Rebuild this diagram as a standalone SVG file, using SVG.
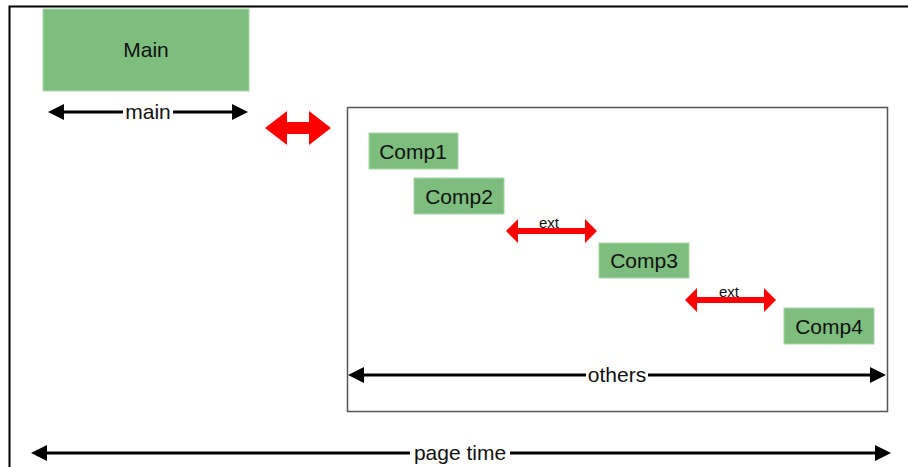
<svg xmlns="http://www.w3.org/2000/svg" width="908" height="467" viewBox="0 0 908 467">
<style>
.box{fill:#7dbd7d;stroke:#a8d8a8;stroke-width:1}
.t{font-family:"Liberation Sans",Arial,sans-serif;fill:#111;text-anchor:middle}
.blk{stroke:#000;stroke-width:3;fill:none}
.hd{fill:#000}
.red{fill:#ff0000}
</style>
<rect width="908" height="467" fill="#fff"/>
<path d="M9.5,467 V6.5 H908" fill="none" stroke="#000" stroke-width="2"/>
<g id="others-box"><rect x="347.5" y="107.5" width="540" height="304" fill="none" stroke="#555" stroke-width="1.5"/></g>
<g id="main"><rect class="box" x="43" y="9" width="206" height="82"/><text class="t" x="146" y="56.5" font-size="21">Main</text></g>
<g id="comp1"><rect class="box" x="369" y="133" width="89" height="36"/><text class="t" x="413" y="158.5" font-size="21">Comp1</text></g>
<g id="comp2"><rect class="box" x="414" y="178" width="90" height="36"/><text class="t" x="459" y="203.5" font-size="21">Comp2</text></g>
<g id="comp3"><rect class="box" x="599" y="243" width="90" height="35"/><text class="t" x="644" y="268" font-size="21">Comp3</text></g>
<g id="comp4"><rect class="box" x="784" y="308" width="90" height="36"/><text class="t" x="829" y="333.5" font-size="21">Comp4</text></g>
<g id="connectors">
<line class="blk" x1="60" y1="112" x2="236" y2="112"/>
<polygon class="hd" points="48,112 64,104 64,120"/>
<polygon class="hd" points="248,112 232,104 232,120"/>
<rect x="123" y="101" width="50" height="22" fill="#fff"/>
<text class="t" x="148" y="119" font-size="21">main</text>
<polygon class="red" points="265,128 287,111 287,122 309,122 309,111 331,128 309,145 309,134 287,134 287,145"/>
<polygon class="red" points="506,231 518,219 518,228 585,228 585,219 597,231 585,243 585,234 518,234 518,243"/>
<text class="t" x="549" y="228" font-size="15">ext</text>
<polygon class="red" points="685,300 697,288 697,297 764,297 764,288 776,300 764,312 764,303 697,303 697,312"/>
<text class="t" x="729" y="297" font-size="15">ext</text>
<line class="blk" x1="360" y1="375" x2="874" y2="375"/>
<polygon class="hd" points="348,375 364,367 364,383"/>
<polygon class="hd" points="886,375 870,367 870,383"/>
<rect x="586" y="364" width="62" height="22" fill="#fff"/>
<text class="t" x="617" y="382" font-size="21">others</text>
<line class="blk" x1="43" y1="453" x2="879" y2="453"/>
<polygon class="hd" points="31,453 47,445 47,461"/>
<polygon class="hd" points="891,453 875,445 875,461"/>
<rect x="410" y="442" width="100" height="22" fill="#fff"/>
<text class="t" x="460" y="460" font-size="21">page time</text>
</g>
</svg>
